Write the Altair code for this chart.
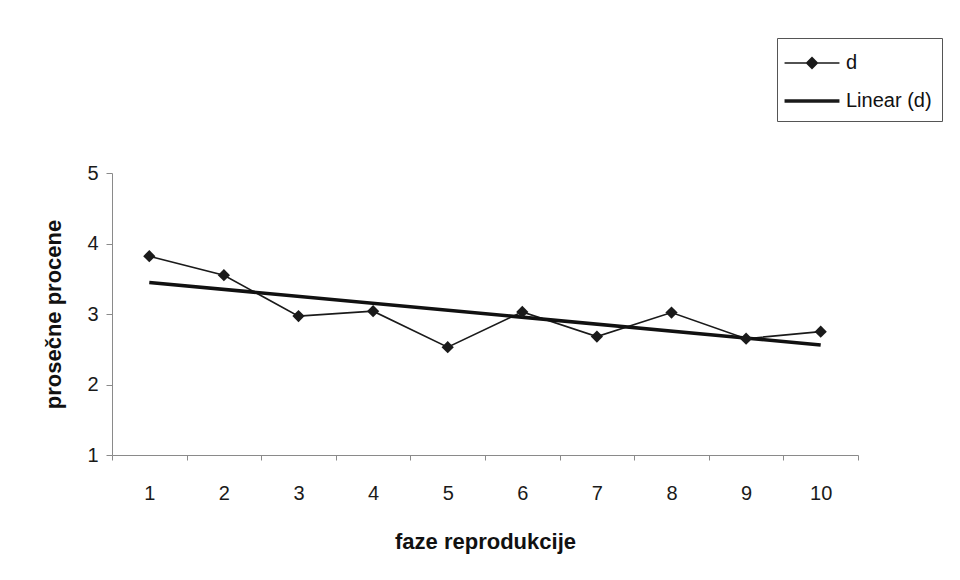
import altair as alt
import pandas as pd

# --- data ---
phases = [1, 2, 3, 4, 5, 6, 7, 8, 9, 10]
d_values = [3.82, 3.55, 2.97, 3.04, 2.53, 3.03, 2.68, 3.02, 2.65, 2.75]
series_names = ["d", "Linear (d)"]
y_ticks = [1, 2, 3, 4, 5]

df = pd.DataFrame({"faza": phases, "d": d_values})
legend_df = pd.DataFrame({"series": series_names})

FONT = "Liberation Sans"

x_scale = alt.Scale(type="band", paddingInner=0, paddingOuter=0)
y_scale = alt.Scale(domain=[1, 5], nice=False, zero=False)

x_enc = alt.X(
    "faza:O",
    scale=x_scale,
    sort="ascending",
    title="faze reprodukcije",
    axis=alt.Axis(
        labelAngle=0,
        tickBand="extent",
        tickSize=5,
        labelPadding=23,
        titlePadding=28,
        labelFontSize=20,
        titleFontSize=22,
        titleFontWeight="bold",
        domainColor="#8a8a8a",
        tickColor="#8a8a8a",
        labelColor="#1a1a1a",
        titleColor="#111111",
        labelFont=FONT,
        titleFont=FONT,
        grid=False,
    ),
)
y_enc = alt.Y(
    "d:Q",
    scale=y_scale,
    title="prosečne procene",
    axis=alt.Axis(
        values=y_ticks,
        format="d",
        tickSize=6,
        labelPadding=8,
        titlePadding=21,
        labelFontSize=20,
        titleFontSize=22,
        titleFontWeight="bold",
        domainColor="#8a8a8a",
        tickColor="#8a8a8a",
        labelColor="#1a1a1a",
        titleColor="#111111",
        labelFont=FONT,
        titleFont=FONT,
        grid=False,
    ),
)

line = alt.Chart(df).mark_line(color="#1a1a1a", strokeWidth=1.6).encode(x=x_enc, y=y_enc)
points = alt.Chart(df).mark_point(
    shape="diamond", filled=True, color="#1a1a1a", size=150, opacity=1
).encode(x=x_enc, y=y_enc)

trend = (
    alt.Chart(df)
    .transform_regression("faza", "d", method="linear")
    .mark_line(color="#111111", strokeWidth=3.6)
    .encode(x=x_enc, y=y_enc)
)

# legend symbols (unit = 15 px at symbolSize 900)
path_d = "M-1.83,-0.053L1.83,-0.053L1.83,0.053L-1.83,0.053Z M0,-0.43L0.43,0L0,0.43L-0.43,0Z"
path_lin = "M-1.83,-0.12L1.83,-0.12L1.83,0.12L-1.83,0.12Z"

legend_layer = alt.Chart(legend_df).mark_point(filled=True, color="#1a1a1a", opacity=0).encode(
    x=alt.value(0),
    y=alt.value(0),
    shape=alt.Shape(
        "series:N",
        scale=alt.Scale(domain=series_names, range=[path_d, path_lin]),
        legend=alt.Legend(
            title=None,
            orient="none",
            legendX=665,
            legendY=-135,
            symbolSize=900,
            symbolOpacity=1,
            symbolFillColor="#1a1a1a",
            symbolStrokeWidth=0,
            symbolOffset=10,
            labelFontSize=20,
            labelFont=FONT,
            labelColor="#111111",
            labelOffset=19,
            rowPadding=13,
            padding=10,
            strokeColor="#555555",
            fillColor="white",
            labelLimit=300,
        ),
    ),
)

chart = (
    alt.layer(line, trend, points, legend_layer)
    .properties(
        width=746,
        height=282,
        autosize=alt.AutoSizeParams(type="none"),
        padding={"left": 104, "top": 165, "right": 90, "bottom": 110},
        view=alt.ViewBackground(strokeOpacity=0, strokeWidth=0, fill="white"),
    )
    .configure_view(strokeOpacity=0, strokeWidth=0)
    .configure_axis(grid=False)
    .configure(background="white")
)

chart.save("out.html", embed_options={"renderer": "svg", "actions": False})
